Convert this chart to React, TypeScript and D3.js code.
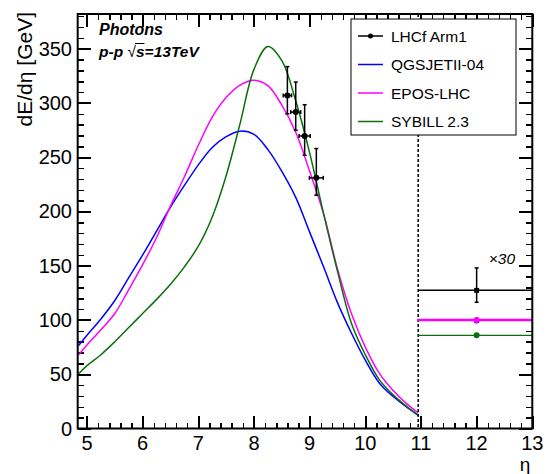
import { useEffect, useRef } from 'react'
import * as d3 from 'd3'

// pseudorapidity grid of the MC curves
const ETA = [4.85, 5, 5.25, 5.5, 5.75, 6, 6.25, 6.5, 6.75, 7, 7.25, 7.5, 7.75, 8, 8.25, 8.5, 8.75, 9, 9.25, 9.5, 9.75, 10, 10.25, 10.5, 10.75, 10.95]
const QGSJET = [76.5, 86, 101, 118, 139, 160, 182, 204, 224, 243, 259, 269, 274, 271, 257, 237, 213, 181, 149, 116, 88, 63, 42, 29.5, 19.5, 12.5]
const EPOS = [68, 77, 91, 106, 128, 151, 176, 205, 232, 261, 287, 305, 316.5, 321, 316, 298, 273, 237, 198, 147, 106, 75, 51, 35, 22.5, 14.5]
const SIBYLL = [50.5, 58, 68, 80, 93, 106, 119, 133, 149, 168, 195, 233, 281, 331, 352, 339, 302, 254, 198, 145, 97, 68, 45, 31, 20, 12]

// LHCf Arm1 points: eta, value, eta half-width, error up, error down
const LHCF_ETA = [8.6, 8.75, 8.91, 9.12]
const LHCF_VAL = [307, 291.6, 269.6, 231]
const LHCF_EX = [0.075, 0.09, 0.1, 0.125]
const LHCF_UP = [26.5, 27.7, 28.8, 27]
const LHCF_DN = [17, 16.8, 17.8, 16]

// eta > 10.95 bin, scaled x30
const BIN_LO = 10.95
const BIN_HI = 13
const BIN_MID = 12
const BIN_LHCF = 127.3
const BIN_LHCF_UP = 20.7
const BIN_LHCF_DN = 11
const BIN_QGS = 99.6
const BIN_EPOS = 100.1
const BIN_SIB = 85.9

const X_TICKS = [5, 6, 7, 8, 9, 10, 11, 12, 13]
const Y_TICKS = [0, 50, 100, 150, 200, 250, 300, 350]

const MODELS = [
  { name: 'QGSJETII-04', color: '#0000ff', values: QGSJET, bin: BIN_QGS },
  { name: 'EPOS-LHC', color: '#ff00ff', values: EPOS, bin: BIN_EPOS },
  { name: 'SYBILL 2.3', color: '#0b700b', values: SIBYLL, bin: BIN_SIB },
]

const FONT = '"Liberation Sans", Arial, Helvetica, sans-serif'
const W = 550, H = 474
const L = 77.7, R = 532.3, T = 14, B = 428.5

const xScale = d3.scaleLinear().domain([4.833, 13]).range([L, R])
const yScale = d3.scaleLinear().domain([0, 382]).range([B, T])

export default function App() {
  const svgRef = useRef<SVGSVGElement>(null)

  useEffect(() => {
    if (!svgRef.current) return
    const x = xScale, y = yScale

    const svg = d3.select(svgRef.current)
    svg.selectAll('*').remove()
    svg.attr('width', W).attr('height', H)
      .style('font-family', FONT)

    svg.append('rect').attr('width', W).attr('height', H).attr('fill', '#fff')

    // axes: inner ticks on all four sides, minor every 0.2 / 10
    const xMinor = d3.range(5, 13.01, 0.2)
    const yMinor = d3.range(0, 381, 10)
    const styleAxis = (w: number) => (ax: any) => {
      ax.select('.domain').remove()
      ax.selectAll('text').remove()
      ax.selectAll('line').attr('stroke', '#000').attr('stroke-width', w)
        .attr('shape-rendering', 'crispEdges')
    }
    const axes: [any, number, number][] = [
      [d3.axisTop(x).tickValues(xMinor).tickSize(6), 0, B],
      [d3.axisTop(x).tickValues(X_TICKS).tickSize(13), 0, B],
      [d3.axisBottom(x).tickValues(xMinor).tickSize(6), 0, T],
      [d3.axisBottom(x).tickValues(X_TICKS).tickSize(13), 0, T],
      [d3.axisRight(y).tickValues(yMinor).tickSize(6), L, 0],
      [d3.axisRight(y).tickValues(Y_TICKS).tickSize(13), L, 0],
      [d3.axisLeft(y).tickValues(yMinor).tickSize(6), R, 0],
      [d3.axisLeft(y).tickValues(Y_TICKS).tickSize(13), R, 0],
    ]
    axes.forEach(([axis, tx, ty], i) => {
      svg.append('g').attr('transform', `translate(${tx},${ty})`)
        .call(axis).call(styleAxis(i % 2 === 0 ? 1.5 : 2))
    })

    // tick labels
    svg.append('g').selectAll('text').data(X_TICKS).enter().append('text')
      .attr('x', d => x(d)).attr('y', 450)
      .attr('text-anchor', 'middle').attr('font-size', 20)
      .text(d => d)
    svg.append('g').selectAll('text').data(Y_TICKS).enter().append('text')
      .attr('x', 72).attr('y', d => y(d) + 7)
      .attr('text-anchor', 'end').attr('font-size', 20)
      .text(d => d)

    // axis titles
    svg.append('text')
      .attr('x', R - 2).attr('y', 471).attr('text-anchor', 'end').attr('font-size', 19)
      .text('η')
    svg.append('text')
      .attr('transform', `translate(32,${T - 2}) rotate(-90)`)
      .attr('text-anchor', 'end').attr('font-size', 21)
      .text('dE/dη [GeV]')

    // MC curves
    const line = d3.line<number>()
      .x((_, i) => x(ETA[i]))
      .y(d => y(d))
      .curve(d3.curveCatmullRom.alpha(0.5))
    MODELS.forEach(m => {
      svg.append('path').attr('d', line(m.values))
        .attr('fill', 'none').attr('stroke', m.color).attr('stroke-width', 1.5)
    })

    // dashed separator
    svg.append('line')
      .attr('x1', x(BIN_LO)).attr('x2', x(BIN_LO)).attr('y1', T).attr('y2', B)
      .attr('stroke', '#000').attr('stroke-width', 1.5).attr('stroke-dasharray', '3,2')

    // x30 bin
    MODELS.forEach(m => {
      svg.append('line')
        .attr('x1', x(BIN_LO)).attr('x2', x(BIN_HI)).attr('y1', y(m.bin)).attr('y2', y(m.bin))
        .attr('stroke', m.color).attr('stroke-width', m.name === 'EPOS-LHC' ? 2.5 : 1.3)
      svg.append('circle').attr('cx', x(BIN_MID)).attr('cy', y(m.bin)).attr('r', 3)
        .attr('fill', m.color)
    })
    const bin = svg.append('g')
    const binLine = (x1: number, x2: number, y1: number, y2: number) =>
      bin.append('line').attr('x1', x1).attr('x2', x2).attr('y1', y1).attr('y2', y2)
        .attr('stroke', '#000').attr('stroke-width', 1.5)
    binLine(x(BIN_LO), x(BIN_HI), y(BIN_LHCF), y(BIN_LHCF))
    binLine(x(BIN_MID), x(BIN_MID), y(BIN_LHCF + BIN_LHCF_UP), y(BIN_LHCF - BIN_LHCF_DN))
    ;[BIN_LHCF + BIN_LHCF_UP, BIN_LHCF - BIN_LHCF_DN].forEach(v => {
      binLine(x(BIN_MID) - 2, x(BIN_MID) + 2, y(v), y(v))
    })
    svg.append('rect')
      .attr('x', x(BIN_MID) - 2.5).attr('y', y(BIN_LHCF) - 2.5).attr('width', 5).attr('height', 5)
      .attr('fill', '#000')
    svg.append('text')
      .attr('x', 515).attr('y', 264).attr('text-anchor', 'end')
      .attr('font-size', 15.5).attr('font-style', 'italic')
      .text('×30')

    // LHCf data
    const pts = svg.append('g')
    const seg = (x1: number, x2: number, y1: number, y2: number) =>
      pts.append('line').attr('x1', x1).attr('x2', x2).attr('y1', y1).attr('y2', y2)
        .attr('stroke', '#000').attr('stroke-width', 1.5)
    LHCF_ETA.forEach((e, i) => {
      const cx = x(e), cy = y(LHCF_VAL[i])
      const x0 = x(e - LHCF_EX[i]), x1 = x(e + LHCF_EX[i])
      const y0 = y(LHCF_VAL[i] + LHCF_UP[i]), y1 = y(LHCF_VAL[i] - LHCF_DN[i])
      seg(cx, cx, y0, y1)
      seg(x0, x1, cy, cy)
      seg(cx - 2, cx + 2, y0, y0)
      seg(cx - 2, cx + 2, y1, y1)
      seg(x0, x0, cy - 2, cy + 2)
      seg(x1, x1, cy - 2, cy + 2)
      pts.append('circle').attr('cx', cx).attr('cy', cy).attr('r', 3).attr('fill', '#000')
    })

    // labels
    svg.append('text').attr('x', 99).attr('y', 35)
      .attr('font-size', 16).attr('font-weight', 'bold').attr('font-style', 'italic')
      .text('Photons')
    const lab = svg.append('g').attr('font-size', 15.5).attr('font-weight', 'bold').attr('font-style', 'italic')
    lab.append('text').attr('x', 99).attr('y', 57).text('p-p')
    lab.append('text').attr('x', 127.5).attr('y', 57).attr('font-weight', 'normal').attr('font-style', 'normal').text('√')
    lab.append('text').attr('x', 136).attr('y', 57).text('s=13TeV')
    svg.append('line').attr('x1', 135).attr('x2', 144.5).attr('y1', 43.5).attr('y2', 43.5)
      .attr('stroke', '#000').attr('stroke-width', 1)

    // legend
    const lg = svg.append('g')
    lg.append('rect').attr('x', 351).attr('y', 19).attr('width', 165).attr('height', 116)
      .attr('fill', '#fff').attr('stroke', '#000').attr('stroke-width', 1)
    const entries = [{ name: 'LHCf Arm1', color: '#000' }, ...MODELS]
    entries.forEach((d, i) => {
      const ly = 36 + i * 28.5
      lg.append('line').attr('x1', 358).attr('x2', 383).attr('y1', ly).attr('y2', ly)
        .attr('stroke', d.color).attr('stroke-width', 1.5)
      if (i === 0) lg.append('circle').attr('cx', 370.5).attr('cy', ly).attr('r', 2.5).attr('fill', '#000')
      lg.append('text').attr('x', 391).attr('y', ly + 5.5).attr('font-size', 15.5).text(d.name)
    })

    // frame
    svg.append('rect').attr('x', L).attr('y', T).attr('width', R - L).attr('height', B - T)
      .attr('fill', 'none').attr('stroke', '#000').attr('stroke-width', 2)
  }, [])

  return (
    <div style={{ position: 'absolute', left: 0, top: 0, width: W, height: H }}>
      <svg ref={svgRef} style={{ display: 'block' }} />
    </div>
  )
}
